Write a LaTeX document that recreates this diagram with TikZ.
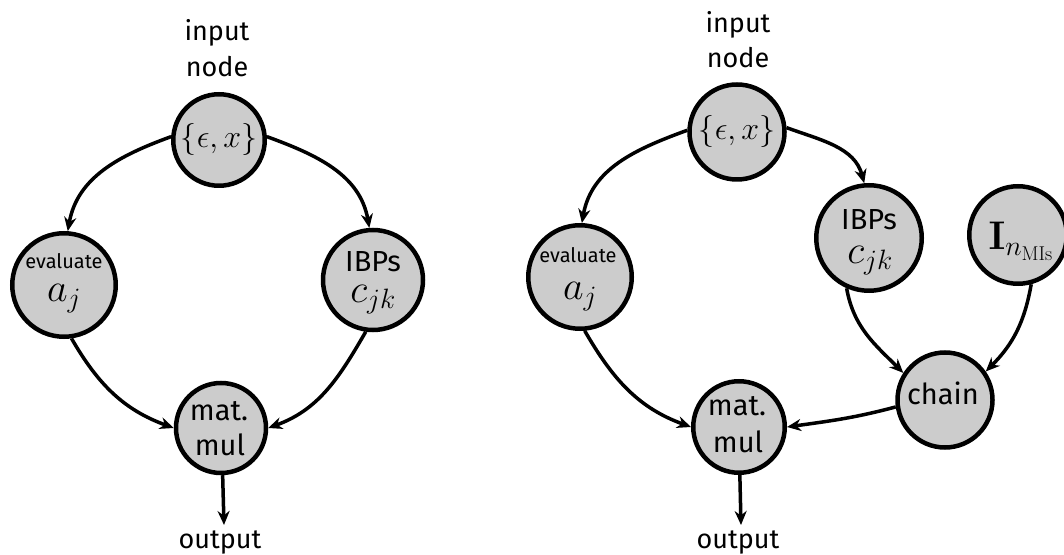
\RequirePackage{fix-cm}
\documentclass[tikz,border=0pt]{standalone}
\usepackage[no-math]{fontspec}
\setmainfont{Fira Sans}
\usetikzlibrary{arrows.meta}
\tikzset{
  circ/.style={circle, draw=black, line width=4.5pt, fill=black!20, inner sep=0pt},
  txt/.style={inner sep=0pt, anchor=base, font=\fontsize{29}{32}\selectfont},
  lbl/.style={inner sep=0pt, anchor=base, font=\fontsize{27}{32}\selectfont},
  small/.style={inner sep=0pt, anchor=base, font=\fontsize{20}{22}\selectfont},
  bigmath/.style={inner sep=0pt, anchor=base, font=\fontsize{40}{44}\selectfont},
  setmath/.style={font=\fontsize{32}{36}\selectfont},
  arr/.style={line width=3.5pt, -{Stealth[length=14pt,width=12pt]}}
}
\begin{document}
\begin{tikzpicture}[x=1pt,y=1pt]
\useasboundingbox (0,0) rectangle (1064,554);
% ---------- left diagram ----------
\node[lbl] (lab1a) at (217,513) {input};
\node[lbl] (lab1b) at (217,477) {node};
\node[circ, setmath, minimum size=91.5pt] (in1) at (219,414) {$\{\epsilon,x\}$};
\node[circ, minimum size=103.5pt] (ev1) at (64,269) {};
\node[small] (ev1t) at (64,285) {evaluate};
\node[bigmath] (ev1m) at (64,252) {$a_j$};
\node[circ, minimum size=100pt] (ib1) at (373,274) {};
\node[txt] (ib1t) at (373,282) {IBPs};
\node[bigmath] (ib1m) at (373,251) {$c_{jk}$};
\node[circ, minimum size=90pt] (mm1) at (221,126) {};
\node[txt] (mm1a) at (219,134) {mat.};
\node[txt] (mm1b) at (220,99) {mul};
\node[lbl] (out1) at (220,6) {output};
\coordinate (out1top) at (224,29);
\draw[arr] (in1.176) to[out=200,in=80] (ev1.86);
\draw[arr] (in1.4) to[out=-20,in=100] (ib1.94);
\draw[arr] (ev1.-82) to[out=-60,in=160] (mm1.180);
\draw[arr] (ib1.-98) to[out=-120,in=20] (mm1.0);
\draw[arr] (mm1.-88) -- (out1top);
% ---------- right diagram ----------
\node[lbl] (lab2a) at (738,521) {input};
\node[lbl] (lab2b) at (738,486) {node};
\node[circ, setmath, minimum size=95pt] (in2) at (737,422) {$\{\epsilon,x\}$};
\node[circ, minimum size=103.5pt] (ev2) at (580,277) {};
\node[small] (ev2t) at (578,291) {evaluate};
\node[bigmath] (ev2m) at (580,254) {$a_j$};
\node[circ, minimum size=105.5pt] (ib2) at (869,316) {};
\node[txt] (ib2t) at (869,324) {IBPs};
\node[bigmath] (ib2m) at (870,290) {$c_{jk}$};
\node[circ, minimum size=97.5pt] (im2) at (1018,319) {};
\node[bigmath] (im2m) at (1021,304) {$\mathbf{I}_{n_{\mathrm{MIs}}}$};
\node[circ, minimum size=95pt] (ch2) at (945,154) {};
\node[txt] (ch2t) at (943,149) {chain};
\node[circ, minimum size=91.5pt] (mm2) at (739,127) {};
\node[txt] (mm2a) at (737,139) {mat.};
\node[txt] (mm2b) at (738,102) {mul};
\node[lbl] (out2) at (738,6) {output};
\coordinate (out2top) at (741,29);
\draw[arr] (in2.178) to[out=200,in=80] (ev2.88);
\draw[arr] (in2.5) to[out=-20,in=105] (ib2.95);
\draw[arr] (ev2.-85) to[out=-60,in=160] (mm2.180);
\draw[arr] (ib2.-114) to[out=-80,in=135] (ch2.147);
\draw[arr] (im2.-75) to[out=-100,in=45] (ch2.35);
\draw[arr] (ch2.188) to[out=195,in=8] (mm2.0);
\draw[arr] (mm2.-89) -- (out2top);
\end{tikzpicture}
\end{document}
